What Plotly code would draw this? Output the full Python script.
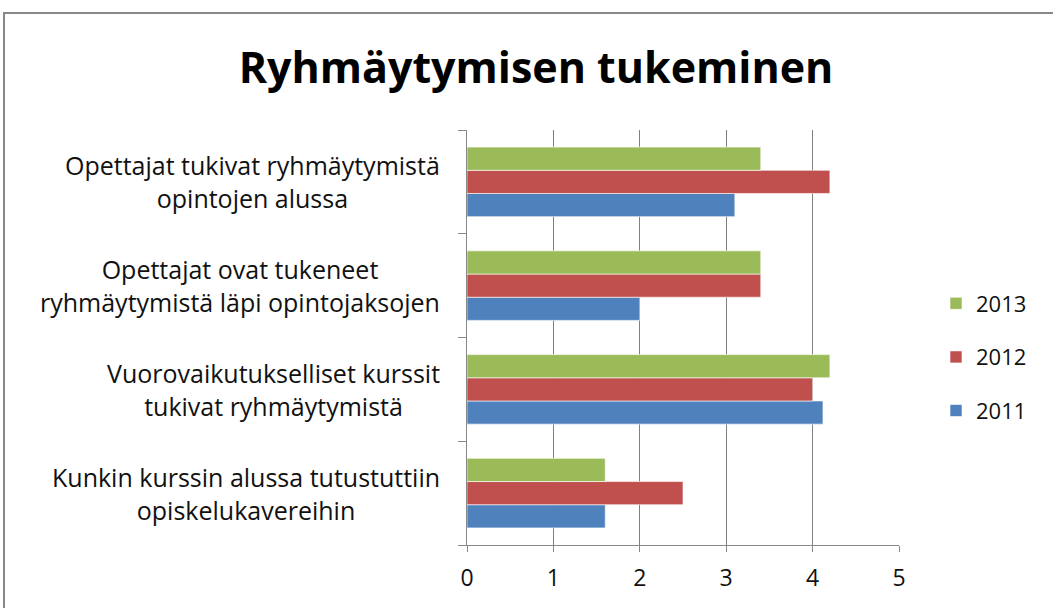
import plotly.graph_objects as go

categories = [
    "Kunkin kurssin alussa tutustuttiin<br>opiskelukavereihin",
    "Vuorovaikutukselliset kurssit<br>tukivat ryhmäytymistä",
    "Opettajat ovat tukeneet<br>ryhmäytymistä läpi opintojaksojen",
    "Opettajat tukivat ryhmäytymistä<br>opintojen alussa",
]
v2011 = [1.6, 4.12, 2.0, 3.1]
v2012 = [2.5, 4.0, 3.4, 4.2]
v2013 = [1.6, 4.2, 3.4, 3.4]
series = [("2011", v2011, "#4F81BD", 3), ("2012", v2012, "#C0504D", 2), ("2013", v2013, "#9BBB59", 1)]
xticks = [0, 1, 2, 3, 4, 5]

FONT = "Open Sans"
W, H = 1053, 608
L, R, T, B = 467, 1053 - 899, 130, 608 - 545
pw, ph = W - L - R, H - T - B

fig = go.Figure()
for name, vals, col, rank in series:
    fig.add_trace(go.Bar(
        y=categories, x=vals, name=name, orientation="h",
        marker=dict(color=col, line=dict(color="rgba(255,255,255,0.6)", width=1)),
        legendgroup=name, legendrank=rank,
    ))

for c in categories:
    fig.add_annotation(
        x=(442 - L) / pw, xref="paper", y=c, yref="y", text=c, showarrow=False,
        xanchor="right", align="center",
        font=dict(family=FONT, size=25, color="#111"),
    )

fig.add_shape(type="rect", xref="paper", yref="paper",
              x0=(4 - L) / pw, x1=(W + 20 - L) / pw,
              y0=-(B + 20) / ph, y1=(H - B - 13) / ph,
              line=dict(color="#888888", width=2), layer="below")

fig.update_layout(
    width=W, height=H,
    margin=dict(l=L, r=R, t=T, b=B),
    paper_bgcolor="white", plot_bgcolor="white",
    barmode="group", bargap=0.33, bargroupgap=0,
    title=dict(text="<b>Ryhmäytymisen tukeminen</b>", x=536 / W, xref="container",
               y=1 - 68 / H, yref="container", xanchor="center", yanchor="middle",
               font=dict(family=FONT, size=43, color="black")),
    legend=dict(traceorder="grouped", x=(936 - L) / pw, y=(H - B - 357) / ph,
                xanchor="left", yanchor="middle",
                font=dict(family=FONT, size=22, color="#111"), tracegroupgap=22,
                bgcolor="rgba(0,0,0,0)"),
    xaxis=dict(range=[0, 5], tickvals=xticks, showgrid=True, gridcolor="#808080", gridwidth=1.3,
               showline=True, linecolor="#888888", linewidth=1, ticks="outside", ticklen=6,
               tickcolor="#888888", zeroline=False, ticklabelstandoff=6,
               tickfont=dict(family=FONT, size=23, color="#111")),
    yaxis=dict(showticklabels=False, showline=True, linecolor="#888888", linewidth=1,
               ticks="outside", ticklen=8, tickcolor="#888888", tickson="boundaries",
               showgrid=False),
    showlegend=True,
)
fig.write_html("out.html", post_script="document.body.style.margin='0';",
               config={"displayModeBar": False})
